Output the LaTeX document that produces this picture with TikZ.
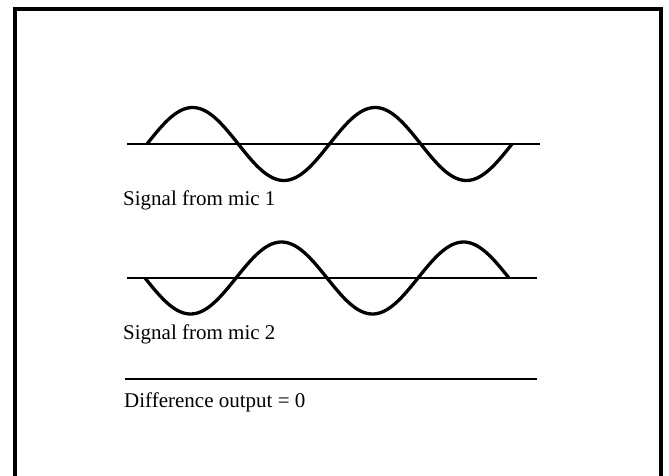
\documentclass[tikz,border=0pt]{standalone}
\usepackage{fontspec}
\setmainfont{Liberation Serif}
\begin{document}
\begin{tikzpicture}[x=1pt,y=-1pt,
  frame/.style={line width=3.4pt},
  axisline/.style={line width=1.9pt},
  wave/.style={line width=3.3pt, line join=round},
  lbl/.style={anchor=base west, inner sep=0pt, font=\fontsize{21pt}{24pt}\selectfont}]
\useasboundingbox[fill=white] (0,0) rectangle (669,476);
% frame (open at bottom)
\draw[frame] (15,476) -- (15,9) -- (661,9) -- (661,476);
% signal 1
\coordinate (a1) at (127,144);
\coordinate (b1) at (540,144);
\draw[axisline] (a1) -- (b1);
\draw[wave] plot[domain=147:512, samples=150] (\x, {144 - 36.5*sin((\x-147)*1.97260)});
\node[lbl] (t1) at (123,205) {Signal from mic 1};
% signal 2
\coordinate (a2) at (127,278);
\coordinate (b2) at (537,278);
\draw[axisline] (a2) -- (b2);
\draw[wave] plot[domain=145:509, samples=150] (\x, {278 + 36*sin((\x-145)*1.97802)});
\node[lbl] (t2) at (123,339) {Signal from mic 2};
% difference
\coordinate (a3) at (125,379);
\coordinate (b3) at (537,379);
\draw[line width=2.6pt] (a3) -- (b3);
\node[lbl] (t3) at (124,407) {Difference output = 0};
\end{tikzpicture}
\end{document}
